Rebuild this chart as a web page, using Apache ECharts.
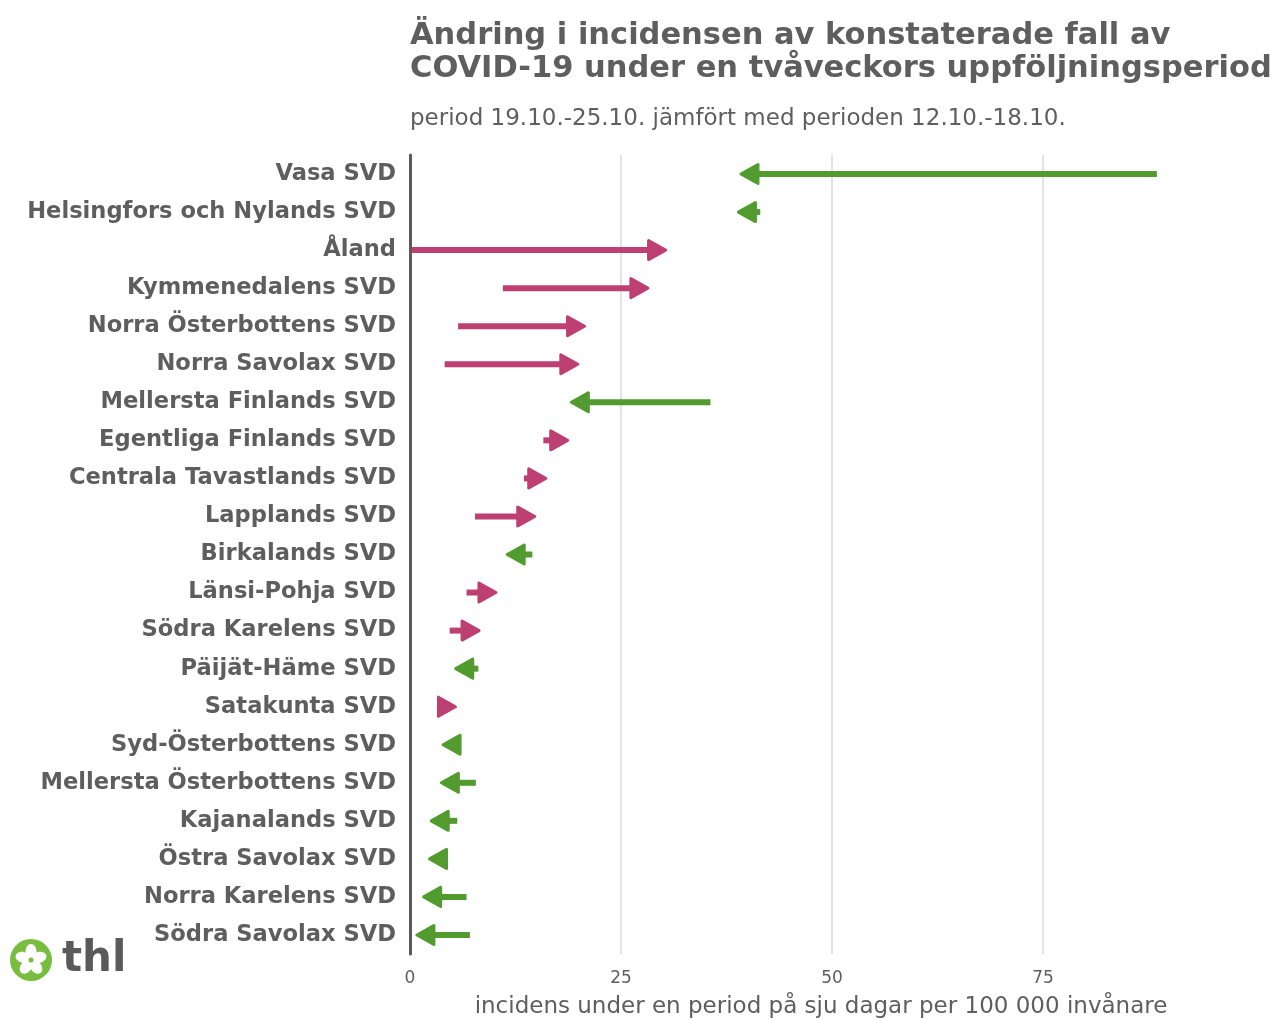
<!DOCTYPE html>
<html>
<head>
<meta charset="utf-8">
<script src="https://cdn.jsdelivr.net/npm/echarts@6/dist/echarts.min.js"></script>
<style>
  html, body { margin: 0; padding: 0; background: #fff; }
  #chart { width: 1280px; height: 1019px; }
</style>
</head>
<body>
<div id="chart"></div>
<script>
// regions from top to bottom
const regions = [
  'Vasa SVD', 'Helsingfors och Nylands SVD', 'Åland', 'Kymmenedalens SVD',
  'Norra Österbottens SVD', 'Norra Savolax SVD', 'Mellersta Finlands SVD',
  'Egentliga Finlands SVD', 'Centrala Tavastlands SVD', 'Lapplands SVD',
  'Birkalands SVD', 'Länsi-Pohja SVD', 'Södra Karelens SVD', 'Päijät-Häme SVD',
  'Satakunta SVD', 'Syd-Österbottens SVD', 'Mellersta Österbottens SVD',
  'Kajanalands SVD', 'Östra Savolax SVD', 'Norra Karelens SVD', 'Södra Savolax SVD'
]
// 12.10.-18.10.
const previous = [88.5, 41.5, 0.2, 11.0, 5.7, 4.1, 35.6, 15.8, 13.5, 7.7, 14.5, 6.7, 4.7, 8.1, 3.5, 5.5, 7.8, 5.6, 4.3, 6.7, 7.1]
// 19.10.-25.10.
const current = [39.1, 38.8, 30.4, 28.3, 20.8, 20.0, 19.0, 18.8, 16.2, 14.9, 11.4, 10.3, 8.3, 5.3, 5.5, 3.8, 3.6, 2.4, 2.2, 1.5, 0.7]
const xTicks = [0, 25, 50, 75]

const UP = '#be3f72'
const DOWN = '#519b2f'
const TEXT = '#5e5e5e'
const FONT = 'DejaVu Sans'

const chart = echarts.init(document.getElementById('chart'))

const arrowData = regions.map((r, i) => [previous[i], current[i], i])

const renderArrow = (params, api) => {
  const start = api.coord([api.value(0), api.value(2)])
  const tip = api.coord([api.value(1), api.value(2)])
  const dir = tip[0] >= start[0] ? 1 : -1
  const color = dir > 0 ? UP : DOWN
  const y = tip[1]
  const headLen = 18
  const headHalf = 9.5
  const base = tip[0] - dir * headLen
  return {
    type: 'group',
    children: [
      {
        type: 'line',
        shape: { x1: start[0], y1: y, x2: tip[0] - dir * 12, y2: y },
        style: { stroke: color, lineWidth: 6, lineCap: 'butt' },
      },
      {
        type: 'polygon',
        shape: { points: [[tip[0] - dir * 1, y], [base, y - headHalf], [base, y + headHalf]] },
        style: { fill: color, stroke: color, lineWidth: 3, lineJoin: 'round' },
      },
    ],
  }
}

const option = {
  backgroundColor: '#fff',
  animation: false,
  title: [
    {
      text: 'Ändring i incidensen av konstaterade fall av\nCOVID-19 under en tvåveckors uppföljningsperiod',
      left: 410,
      top: 20,
      padding: 0,
      textStyle: { fontFamily: FONT, fontSize: 30.5, fontWeight: 'bold', color: TEXT, lineHeight: 33 },
    },
    {
      text: 'period 19.10.-25.10. jämfört med perioden 12.10.-18.10.',
      left: 410,
      top: 106,
      padding: 0,
      textStyle: { fontFamily: FONT, fontSize: 23, fontWeight: 'normal', color: TEXT, lineHeight: 26 },
    },
  ],
  grid: { left: 410, top: 155, width: 822, height: 799, outerBoundsMode: 'none' },
  xAxis: {
    type: 'value',
    min: 0,
    max: 97.4,
    name: 'incidens under en period på sju dagar per 100 000 invånare',
    nameLocation: 'middle',
    nameGap: 42,
    nameTextStyle: { fontFamily: FONT, fontSize: 23, color: TEXT },
    axisLine: { show: false },
    axisTick: { show: false, customValues: xTicks },
    axisLabel: { customValues: xTicks, fontFamily: FONT, fontSize: 17, color: TEXT, margin: 16 },
    splitLine: { show: true, lineStyle: { color: '#e3e3e3', width: 2 } },
  },
  yAxis: {
    type: 'category',
    data: regions,
    inverse: true,
    axisLine: { show: true, lineStyle: { color: '#5a5a5a', width: 3 } },
    axisTick: { show: false },
    axisLabel: { fontFamily: FONT, fontSize: 22.6, fontWeight: 'bold', color: TEXT, margin: 14 },
    splitLine: { show: false },
  },
  graphic: [
    {
      type: 'group',
      left: 10,
      top: 939,
      children: [
        { type: 'circle', shape: { cx: 21, cy: 21, r: 21 }, style: { fill: '#78bd3f' } },
        ...[0, 1, 2, 3, 4].map((k) => {
          const a = -Math.PI / 2 + (k * 2 * Math.PI) / 5
          return {
            type: 'ellipse',
            shape: { cx: 0, cy: 0, rx: 5.5, ry: 7.5 },
            x: 21 + Math.cos(a) * 8.5,
            y: 21 + Math.sin(a) * 8.5,
            rotation: -(a + Math.PI / 2),
            style: { fill: '#fff' },
          }
        }),
        { type: 'circle', shape: { cx: 21, cy: 21, r: 2.5 }, style: { fill: '#78bd3f' } },
      ],
    },
    {
      type: 'text',
      left: 62,
      top: 939,
      style: { text: 'thl', fontFamily: FONT, fontSize: 42, fontWeight: 'bold', fill: '#5a5a5a' },
    },
  ],
  series: [
    {
      type: 'custom',
      renderItem: renderArrow,
      encode: { x: [0, 1], y: 2 },
      data: arrowData,
      z: 3,
    },
  ],
}

chart.setOption(option)
</script>
</body>
</html>
